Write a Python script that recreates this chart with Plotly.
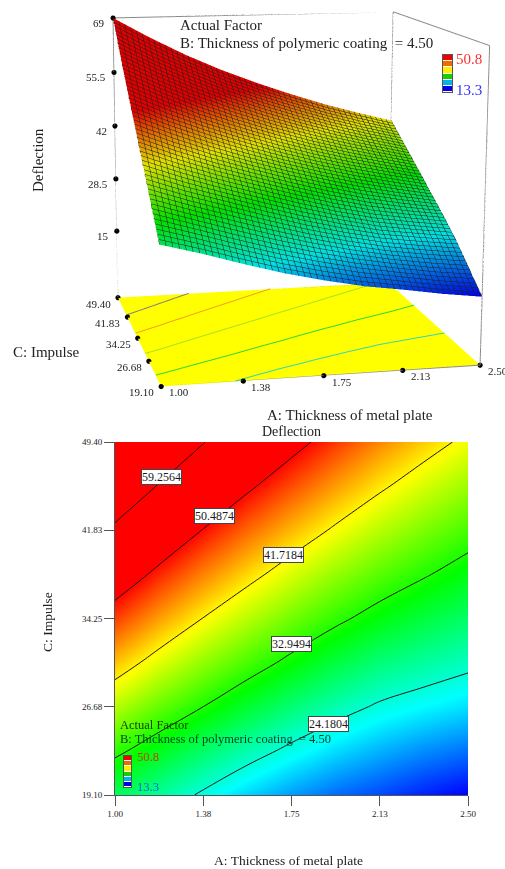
import plotly.graph_objects as go

# ---- data ----
grid_plate = [1.0, 1.1875, 1.375, 1.5625, 1.75, 1.9375, 2.125, 2.3125, 2.5]
grid_impulse = [19.1, 22.89, 26.68, 30.46, 34.25, 38.04, 41.83, 45.61, 49.4]
deflection_rows = [
    [28.8, 26.36, 23.64, 21.1, 19.0, 17.2, 15.9, 14.45, 13.3],
    [33.74, 30.98, 28.23, 25.65, 23.38, 21.4, 19.8, 18.45, 17.4],
    [38.7, 35.63, 32.95, 30.25, 27.73, 25.56, 23.71, 22.56, 21.5],
    [43.62, 40.28, 37.29, 34.65, 32.08, 29.66, 27.62, 26.2, 25.0],
    [48.47, 44.88, 41.63, 38.74, 36.09, 33.7, 31.54, 29.75, 28.2],
    [53.39, 49.46, 45.99, 42.85, 40.0, 37.45, 35.21, 33.27, 31.4],
    [58.35, 54.18, 50.35, 47.0, 43.97, 41.21, 38.75, 36.58, 34.57],
    [63.65, 58.93, 54.89, 51.17, 47.93, 44.99, 42.27, 39.89, 37.73],
    [69.0, 64.0, 59.44, 55.42, 51.91, 48.7, 45.77, 43.23, 40.9],
]
x_ticks = [1.0, 1.375, 1.75, 2.125, 2.5]
y_ticks = [19.1, 26.675, 34.25, 41.825, 49.4]
deflection_ticks = [15, 28.5, 42, 55.5, 69]
floor_level = -2.5
contour_levels = [24.1804, 32.9494, 41.7184, 50.4874, 59.2564]
floor_line_colors = ["#2fd8b0", "#30d830", "#a8e020", "#f0a020", "#808080"]
legend_steps = [0, 1, 2, 3, 4, 5]
legend_labels = ["50.8", "13.3"]
color_low, color_high = 13.3, 50.8

x_labels = ["1.00", "1.38", "1.75", "2.13", "2.50"]
y_labels = ["19.10", "26.68", "34.25", "41.83", "49.40"]
z_labels = ["15", "28.5", "42", "55.5", "69"]

RAINBOW = [[0, "#0000ff"], [0.25, "#00ffff"], [0.5, "#00ff00"], [0.75, "#ffff00"], [1, "#ff0000"]]
LEGEND_SCALE = [[0, "#0000e6"], [0.2, "#00b4f0"], [0.4, "#14d000"], [0.6, "#ffee00"], [0.8, "#f06a00"], [1, "#f00000"]]
SERIF = "Liberation Serif"
GREY = "#8a8a8a"
TEXT = "#222222"

# the figure is taller than the window so the 3D view gets its long lens
FIG_H = 1382
TOP = 496
W = 505


def px(v):
    return v / W


def py(v):
    return 1 - (v + TOP) / FIG_H


def crossings(level):
    """Where a contour level crosses the grid lines of the data table."""
    found = []
    for j, row in enumerate(deflection_rows):
        for i in range(len(row) - 1):
            a, b = row[i], row[i + 1]
            if (a - level) * (b - level) < 0:
                t = (level - a) / (b - a)
                found.append((grid_plate[i] + t * (grid_plate[i + 1] - grid_plate[i]), grid_impulse[j]))
    for i in range(len(grid_plate)):
        for j in range(len(grid_impulse) - 1):
            a, b = deflection_rows[j][i], deflection_rows[j + 1][i]
            if (a - level) * (b - level) < 0:
                t = (level - a) / (b - a)
                found.append((grid_plate[i], grid_impulse[j] + t * (grid_impulse[j + 1] - grid_impulse[j])))
    return sorted(found)


fig = go.Figure()

# ---- 3D response surface ----
fig.add_trace(go.Surface(
    x=grid_plate, y=grid_impulse, z=deflection_rows,
    colorscale=RAINBOW, cmin=color_low, cmax=color_high, showscale=False,
    lighting=dict(ambient=0.88, diffuse=0, specular=0, roughness=1, fresnel=0),
    hoverinfo="skip",
    contours=dict(
        x=dict(show=True, start=1.0, end=2.5, size=0.03, color="rgb(30,30,30)", width=1, highlight=False),
        y=dict(show=True, start=19.1, end=49.4, size=0.606, color="rgb(30,30,30)", width=1, highlight=False),
        z=dict(highlight=False),
    ),
))

# contour lines on the floor of the cube
for level, col in zip(contour_levels, floor_line_colors):
    pts = crossings(level)
    fig.add_trace(go.Scatter3d(
        x=[p[0] for p in pts], y=[p[1] for p in pts], z=[floor_level + 0.1] * len(pts),
        mode="lines", line=dict(color=col, width=2), hoverinfo="skip", showlegend=False,
    ))

# box edges of the 3D cube, built from the axis ranges
x0, x1 = x_ticks[0], x_ticks[-1]
y0, y1 = y_ticks[0], y_ticks[-1]
z0, z1 = floor_level, deflection_ticks[-1]
edges = [
    (x0, y1, z0), (x0, y1, z1), (x1, y1, z1), (x1, y1, z0), (x0, y1, z0), (x0, y0, z0),
    (x1, y0, z0), (x1, y1, z0), (None, None, None),
    (x1, y1, z1), (x1, y0, z1), (x1, y0, z0),
]
fig.add_trace(go.Scatter3d(
    x=[e[0] for e in edges], y=[e[1] for e in edges], z=[e[2] for e in edges],
    mode="lines", line=dict(color=GREY, width=2), hoverinfo="skip", showlegend=False,
))

# tick dots on the cube
dot_x = [x0] * len(deflection_ticks) + x_ticks + [x0] * len(y_ticks)
dot_y = [y1] * len(deflection_ticks) + [y0] * len(x_ticks) + y_ticks
dot_z = deflection_ticks + [z0] * (len(x_ticks) + len(y_ticks))
fig.add_trace(go.Scatter3d(
    x=dot_x, y=dot_y, z=dot_z, mode="markers",
    marker=dict(color="black", size=3), hoverinfo="skip", showlegend=False,
))

scene_notes = []
for v, t in zip(deflection_ticks, z_labels):
    scene_notes.append(dict(x=x0, y=y1, z=v, text=t, showarrow=False, xanchor="right", yanchor="middle",
                            xshift=-6, yshift=-5, font=dict(family=SERIF, size=11, color=TEXT)))
for v, t in zip(y_ticks, y_labels):
    scene_notes.append(dict(x=x0, y=v, z=z0, text=t, showarrow=False, xanchor="right", yanchor="middle",
                            xshift=-5, yshift=-6, font=dict(family=SERIF, size=11, color=TEXT)))
for v, t in zip(x_ticks, x_labels):
    scene_notes.append(dict(x=v, y=y0, z=z0, text=t, showarrow=False, xanchor="left", yanchor="middle",
                            xshift=6, yshift=-6, font=dict(family=SERIF, size=11, color=TEXT)))

hidden = dict(showgrid=False, zeroline=False, showline=False, showticklabels=False, ticks="",
              showspikes=False, showbackground=False, title=dict(text=""))

# ---- 2D contour map ----
fig.add_trace(go.Heatmap(
    x=grid_plate, y=grid_impulse, z=deflection_rows, zsmooth="best",
    colorscale=RAINBOW, zmin=color_low, zmax=color_high, showscale=False,
    hoverinfo="skip", xaxis="x", yaxis="y",
))
fig.add_trace(go.Contour(
    x=grid_plate, y=grid_impulse, z=deflection_rows,
    contours=dict(coloring="none", start=contour_levels[0], end=contour_levels[-1],
                  size=contour_levels[1] - contour_levels[0]),
    line=dict(color="#1a1a1a", width=1, smoothing=1.3), showscale=False, hoverinfo="skip",
    xaxis="x", yaxis="y",
))

# ---- small legends, one for each chart ----
for xa, ya in (("x2", "y2"), ("x3", "y3")):
    fig.add_trace(go.Heatmap(
        z=[[s] for s in legend_steps], colorscale=LEGEND_SCALE, zmin=0, zmax=5, showscale=False,
        hoverinfo="skip", xaxis=xa, yaxis=ya, ygap=1,
    ))

tick_font = dict(family=SERIF, size=9, color=TEXT)
legend_axis = dict(showticklabels=False, ticks="", showgrid=False, zeroline=False,
                   showline=True, mirror=True, linecolor="#555555", linewidth=1)

fig.update_layout(
    width=W, height=FIG_H, margin=dict(l=0, r=0, t=0, b=0, autoexpand=False), autosize=False,
    paper_bgcolor="white", plot_bgcolor="white", showlegend=False,
    scene=dict(
        domain=dict(x=[0, 1], y=[0, 1]),
        aspectmode="manual", aspectratio=dict(x=1, y=1.003, z=0.995),
        camera=dict(eye=dict(x=-1.209, y=-5.201, z=1.105),
                    center=dict(x=-0.113, y=0.015, z=-0.039),
                    up=dict(x=0.006, y=-0.002, z=1),
                    projection=dict(type="perspective")),
        xaxis=dict(range=[x0, x1], **hidden),
        yaxis=dict(range=[y0, y1], **hidden),
        zaxis=dict(range=[z0, z1], **{**hidden, "showbackground": True, "backgroundcolor": "#ffff00"}),
        bgcolor="rgba(0,0,0,0)",
        annotations=scene_notes,
    ),
    xaxis=dict(domain=[px(115), px(468)], range=[x0, x1], tickvals=x_ticks, ticktext=x_labels,
               ticks="outside", ticklen=10, tickcolor="#555555", tickfont=tick_font, showgrid=False,
               zeroline=False, showline=True, linecolor="#555555", anchor="y"),
    yaxis=dict(domain=[py(795), py(442)], range=[y0, y1], tickvals=y_ticks, ticktext=y_labels,
               ticks="outside", ticklen=10, tickcolor="#555555", tickfont=tick_font, showgrid=False,
               zeroline=False, showline=True, linecolor="#555555", anchor="x"),
    xaxis2=dict(domain=[px(443), px(452)], anchor="y2", **legend_axis),
    yaxis2=dict(domain=[py(92), py(55)], anchor="x2", **legend_axis),
    xaxis3=dict(domain=[px(123.5), px(131)], anchor="y3", **legend_axis),
    yaxis3=dict(domain=[py(787), py(756)], anchor="x3", **legend_axis),
)


def note(x, y, text, size=14, color=TEXT, xanchor="center", **kw):
    fig.add_annotation(x=px(x), y=py(y), xref="paper", yref="paper", text=text, showarrow=False,
                       xanchor=xanchor, yanchor="middle",
                       font=dict(family=SERIF, size=size, color=color), **kw)


# titles and factor text, top chart
note(38, 160, "Deflection", 15, textangle=-90)
note(46, 352, "C: Impulse", 15)
note(350, 415, "A: Thickness of metal plate", 15)
note(178, 25, "Actual Factor", 15, xanchor="left")
note(178, 43, "B: Thickness of polymeric coating &nbsp;= 4.50", 15, xanchor="left")
note(454, 59, legend_labels[0], 15, "#ff3030", xanchor="left")
note(454, 90, legend_labels[1], 15, "#3030ff", xanchor="left")

# titles and factor text, bottom chart
note(291, 431, "Deflection", 14)
note(47, 622, "C: Impulse", 13.5, textangle=-90)
note(288, 860, "A: Thickness of metal plate", 13.5)
note(118, 725, "Actual Factor", 12.5, "#143c00", xanchor="left")
note(118, 739, "B: Thickness of polymeric coating &nbsp;= 4.50", 12.5, "#003c28", xanchor="left")
note(135, 757, legend_labels[0], 12.5, "#c84000", xanchor="left")
note(135, 787, legend_labels[1], 12.5, "#0060e0", xanchor="left")

# contour value boxes on the map
box_text = [f"{v:.4f}" for v in contour_levels]
box_place = [(328, 724), (291, 644), (283, 555), (214, 516), (161, 477)]
for text, (bx, by) in zip(box_text, box_place):
    note(bx, by, text, 12, "#1a1a1a", bgcolor="white", bordercolor="#444444", borderwidth=1, borderpad=0)

fig.write_html("out.html", config=dict(displayModeBar=False),
               post_script=f"document.body.style.margin='-{TOP}px 0 0 0';"
                           "document.documentElement.style.overflow='hidden';")
